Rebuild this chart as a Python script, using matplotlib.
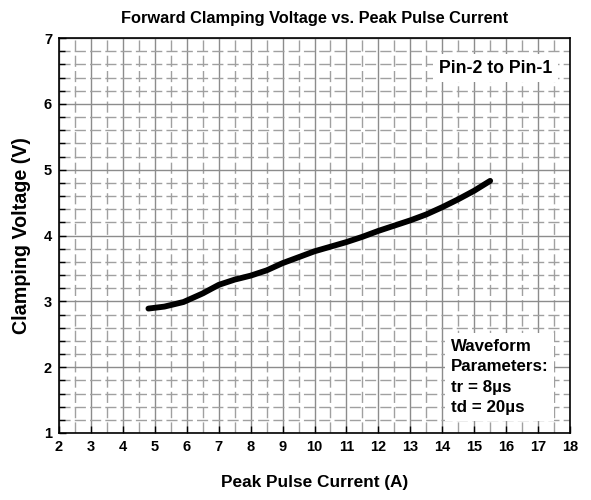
import matplotlib
matplotlib.use("Agg")
import matplotlib.pyplot as plt
from matplotlib.ticker import MultipleLocator

current = [4.8, 5.3, 5.9, 6.5, 7.0, 7.5, 8.0, 8.5, 9.0, 9.5, 10.0, 10.5, 11.0,
           11.5, 12.0, 12.5, 13.0, 13.5, 14.0, 14.5, 15.0, 15.5]
voltage = [2.89, 2.92, 2.99, 3.12, 3.25, 3.33, 3.39, 3.47, 3.58, 3.67, 3.76, 3.83,
           3.90, 3.98, 4.07, 4.15, 4.23, 4.32, 4.43, 4.55, 4.68, 4.83]
xticks = list(range(2, 19))
yticks = list(range(1, 8))

plt.rcParams['font.family'] = ['Liberation Sans', 'DejaVu Sans']
fig = plt.figure(figsize=(5.91, 5.0), dpi=100)
ax = fig.add_axes([59/591, 1-433/500, (570-59)/591, (433-38)/500])

ax.set_xlim(2, 18)
ax.set_ylim(1, 7)
ax.set_xticks(xticks)
ax.set_yticks(yticks)
ax.xaxis.set_minor_locator(MultipleLocator(0.5))
ax.yaxis.set_minor_locator(MultipleLocator(0.2))
ax.grid(which='major', color='#8c8c8c', linewidth=1.0, linestyle='-')
ax.grid(which='minor', axis='x', color='#a0a0a0', linewidth=1.0, linestyle=(0, (8, 3)))
ax.grid(which='minor', axis='y', color='#a0a0a0', linewidth=1.0, linestyle=(0, (8, 3)))
ax.set_axisbelow(True)

ax.tick_params(which='major', direction='in', length=5, width=1, pad=5, labelsize=10.5)
ax.tick_params(which='minor', axis='y', direction='in', length=4, width=1)
ax.tick_params(which='minor', axis='x', length=0)
for lab in ax.get_xticklabels() + ax.get_yticklabels():
    lab.set_fontweight('bold')
for s in ax.spines.values():
    s.set_linewidth(1.2)

ax.plot(current, voltage, color='black', linewidth=4.2, solid_capstyle='round')

fig.text(314.5/591, 1-18/500, 'Forward Clamping Voltage vs. Peak Pulse Current',
         ha='center', va='center', fontsize=11.8, fontweight='bold')
ax.set_xlabel('Peak Pulse Current (A)', fontsize=12.4, fontweight='bold')
ax.xaxis.set_label_coords(0.5, (433-483)/395)
ax.xaxis.label.set_va('center')
ax.set_ylabel('Clamping Voltage (V)', fontsize=14.2, fontweight='bold')
ax.yaxis.set_label_coords((22-59)/511, 0.5)
ax.yaxis.label.set_va('center')

ax.text(0.965, 0.924, 'Pin-2 to Pin-1', transform=ax.transAxes, ha='right', va='center',
        fontsize=12.7, fontweight='bold',
        bbox=dict(facecolor='white', edgecolor='none', pad=4))
ax.text(0.767, 0.142, 'Waveform\nParameters:\ntr = 8µs\ntd = 20µs', transform=ax.transAxes,
        ha='left', va='center', fontsize=12.2, fontweight='bold', linespacing=1.45,
        bbox=dict(facecolor='white', edgecolor='none', pad=4))

fig.savefig('out.png', dpi=100)
